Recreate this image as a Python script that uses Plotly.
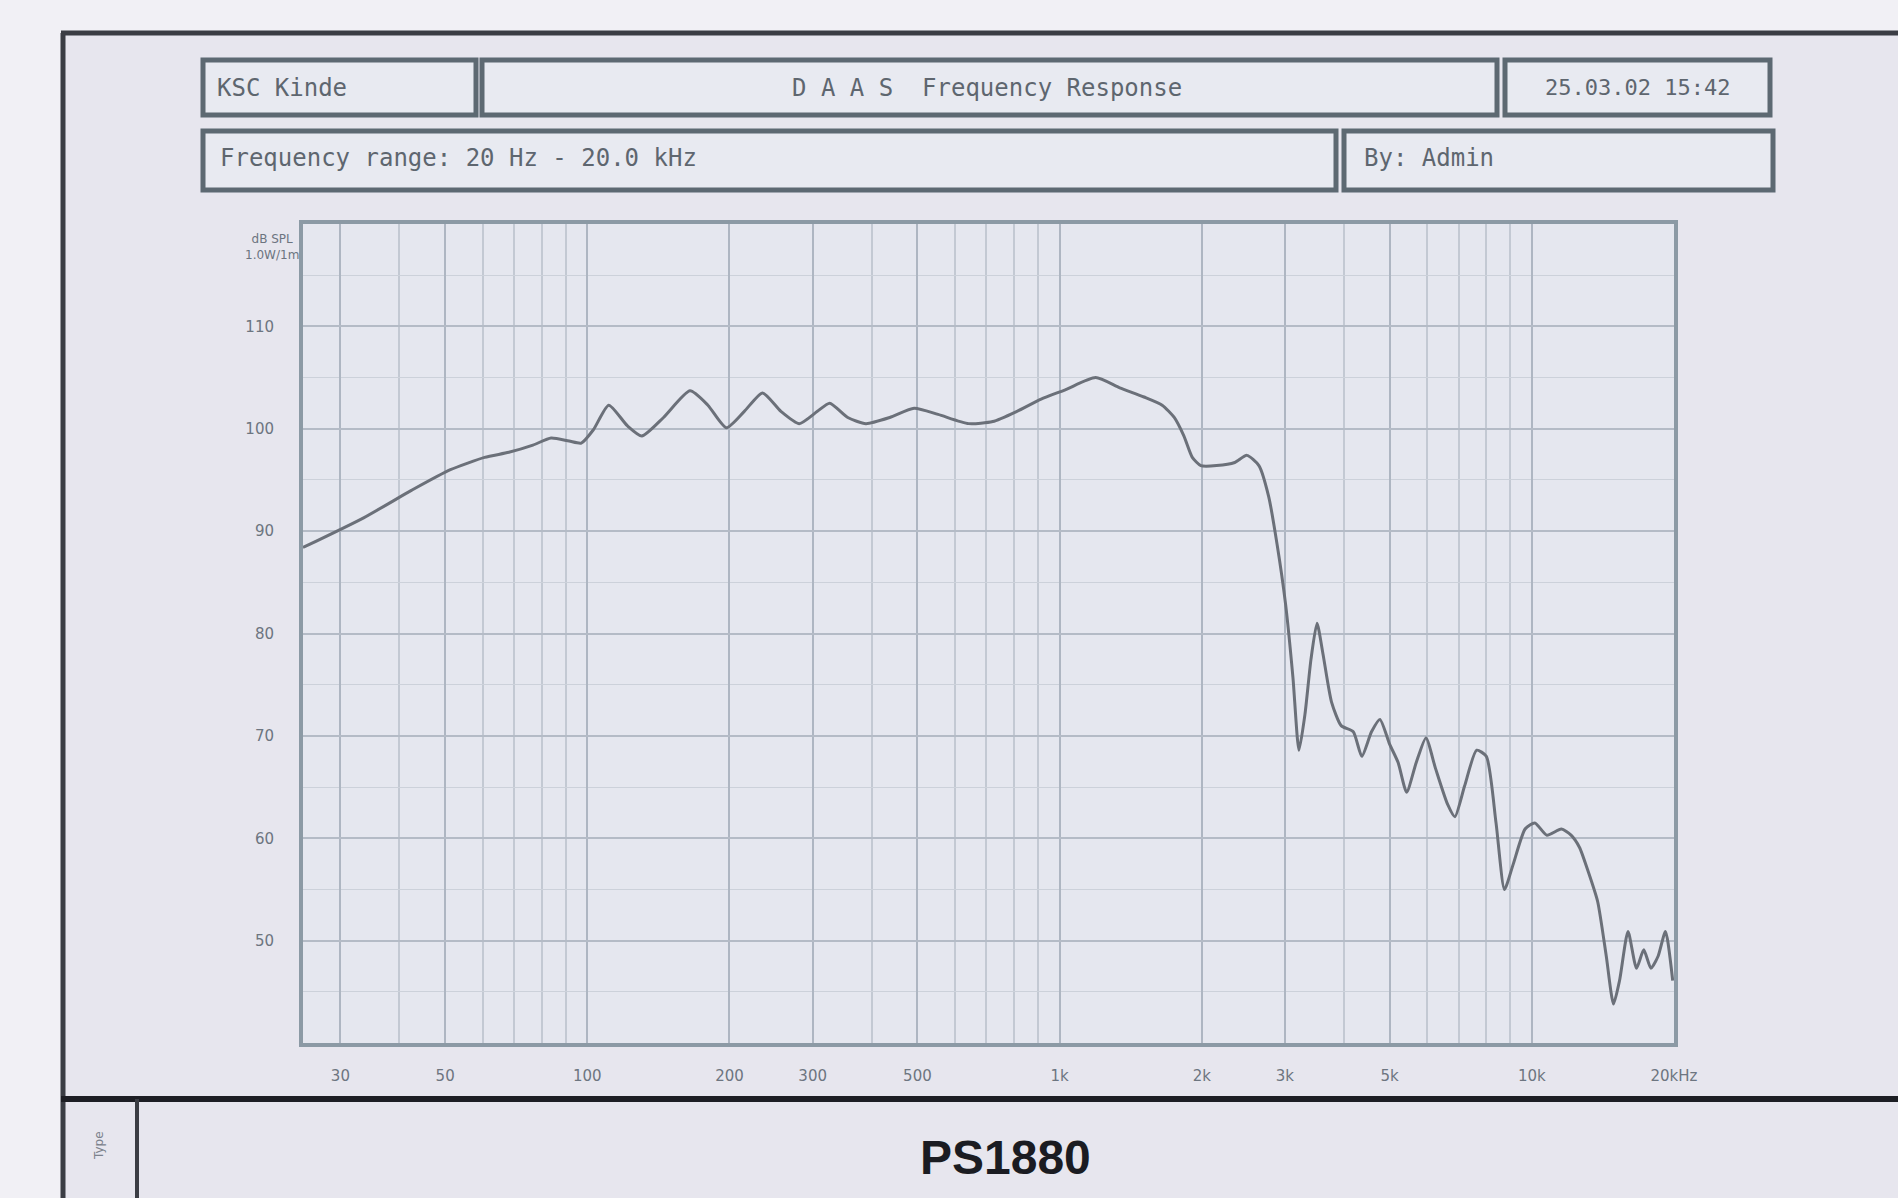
import math
import plotly.graph_objects as go

# ---- measured response of the PS1880 driver (Hz, dB SPL) ----
freq_hz = [25, 33.6, 42.5, 51.3, 60.6, 68.2, 76.7, 83.8, 91.5, 97.1, 103, 111, 121.5, 130.5,
           145, 165, 180, 197, 215, 235, 257, 281, 307, 326, 356, 389, 437, 492, 553, 642,
           722, 812, 914, 1028, 1192, 1341, 1509, 1649, 1749, 1833, 1910, 1991, 2150, 2349,
           2492, 2643, 2771, 2888, 3011, 3120, 3213, 3308, 3407, 3508, 3612, 3766, 3947,
           4187, 4365, 4576, 4768, 4998, 5210, 5431, 5692, 5967, 6254, 6633, 6872, 7204,
           7641, 8010, 8398, 8752, 9123, 9678, 10146, 10763, 11548, 12107, 12618, 13151,
           13786, 14374, 14890, 15337, 15984, 16658, 17258, 17873, 18515, 19185, 19873]
spl_db = [88.4, 91.3, 94.0, 96.0, 97.2, 97.7, 98.4, 99.1, 98.8, 98.6, 99.9, 102.3, 100.3, 99.3,
          101.1, 103.7, 102.3, 100.1, 101.7, 103.5, 101.7, 100.5, 101.7, 102.5, 101.1, 100.5,
          101.1, 102.0, 101.4, 100.5, 100.7, 101.7, 102.9, 103.8, 105.0, 104.0, 103.1, 102.3,
          101.1, 99.3, 97.2, 96.4, 96.4, 96.7, 97.4, 96.4, 93.4, 88.7, 82.8, 75.7, 68.6, 72.1,
          77.5, 81.0, 78.0, 73.3, 71.0, 70.4, 68.0, 70.4, 71.6, 69.2, 67.4, 64.5, 67.4, 69.8,
          66.8, 63.3, 62.1, 65.1, 68.6, 68.0, 61.5, 55.0, 57.4, 60.9, 61.5, 60.3, 60.9, 60.3,
          59.1, 56.8, 53.8, 48.5, 43.8, 46.1, 50.9, 47.3, 49.1, 47.3, 48.5, 50.9, 46.1]

# ---- axes ----
x_tick_vals = [30, 50, 100, 200, 300, 500, 1000, 2000, 3000, 5000, 10000, 20000]
x_tick_text = ["30", "50", "100", "200", "300", "500", "1k", "2k", "3k", "5k", "10k", "20kHz"]
x_minor_vals = [m * d for d in (10, 100, 1000, 10000) for m in range(1, 10)
                if 25 <= m * d <= 20000]
y_tick_vals = [50, 60, 70, 80, 90, 100, 110]
y_tick_text = ["50", "60", "70", "80", "90", "100", "110"]
x_min_hz, x_max_hz = 25, 20000
y_min_db, y_max_db = 40, 120

# ---- header text ----
title_left = "KSC Kinde"
title_mid = "D A A S  Frequency Response"
title_right = "25.03.02 15:42"
range_text = "Frequency range: 20 Hz - 20.0 kHz"
by_text = "By: Admin"
unit_text = "dB SPL<br>1.0W/1m"
model_name = "PS1880"
side_text = "Type"

# ---- page geometry (pixels) ----
FIG_W, FIG_H = 1898, 1198
M_L, M_R, M_T, M_B = 303, 224, 224, 155
PW = FIG_W - M_L - M_R
PH = FIG_H - M_T - M_B


def px(x):
    return (x - M_L) / PW


def py(y):
    return (FIG_H - M_B - y) / PH


INK = "#3b3d44"
BOX_LINE = "#5d6972"
BOX_FILL = "#e8eaf1"
TEXT_GREY = "#5e666f"
MONO = "DejaVu Sans Mono"

fig = go.Figure()
fig.add_trace(go.Scatter(
    x=freq_hz, y=spl_db, mode="lines",
    line=dict(color="#6b7079", width=3, shape="spline", smoothing=0.6),
    hoverinfo="x+y", showlegend=False,
))

shapes = []
# outer page frame
shapes.append(dict(type="rect", xref="paper", yref="paper",
                   x0=px(0), x1=px(63), y0=py(FIG_H), y1=py(0),
                   fillcolor="#f1f0f5", line_width=0, layer="below"))
shapes.append(dict(type="rect", xref="paper", yref="paper",
                   x0=px(0), x1=px(FIG_W), y0=py(33), y1=py(0),
                   fillcolor="#f1f0f5", line_width=0, layer="below"))
shapes.append(dict(type="line", xref="paper", yref="paper",
                   x0=px(63), x1=px(63), y0=py(33), y1=py(FIG_H),
                   line=dict(color=INK, width=5)))
shapes.append(dict(type="line", xref="paper", yref="paper",
                   x0=px(61), x1=px(FIG_W), y0=py(33), y1=py(33),
                   line=dict(color=INK, width=5)))
shapes.append(dict(type="line", xref="paper", yref="paper",
                   x0=px(61), x1=px(FIG_W), y0=py(1099), y1=py(1099),
                   line=dict(color="#1d1e24", width=6)))
shapes.append(dict(type="line", xref="paper", yref="paper",
                   x0=px(137), x1=px(137), y0=py(1099), y1=py(FIG_H),
                   line=dict(color=INK, width=4)))

# header boxes: (x0, x1, y0, y1)
header_boxes = [(203, 476, 60, 115), (482, 1497, 60, 115), (1505, 1770, 60, 115),
                (203, 1336, 131, 190), (1344, 1773, 131, 190)]
for x0, x1, y0, y1 in header_boxes:
    shapes.append(dict(type="rect", xref="paper", yref="paper",
                       x0=px(x0), x1=px(x1), y0=py(y1), y1=py(y0),
                       fillcolor=BOX_FILL, line=dict(color=BOX_LINE, width=5)))

annotations = []


def label(text, x, y, size, xanchor="left", color=TEXT_GREY, family=MONO, **kw):
    annotations.append(dict(text=text, x=px(x), y=py(y), xref="paper", yref="paper",
                            xanchor=xanchor, yanchor="middle", showarrow=False,
                            font=dict(family=family, size=size, color=color), **kw))


label(title_left, 215, 88, 24)
label(title_mid, 987, 88, 24, xanchor="center")
label(title_right, 1637, 88, 22, xanchor="center")
label(range_text, 218, 158, 24)
label(by_text, 1362, 158, 24)
label(unit_text, 272, 247, 12, xanchor="center", color="#6c7480", family="DejaVu Sans")
label(model_name, 1005, 1157, 48, xanchor="center", color="#1b1c22",
      family="Liberation Sans, Arial")
annotations[-1]["font"]["weight"] = "bold"
label(side_text, 99, 1146, 12, xanchor="center", color="#7c828c",
      family="DejaVu Sans", textangle=-90)

fig.update_layout(
    width=FIG_W, height=FIG_H,
    margin=dict(l=M_L, r=M_R, t=M_T, b=M_B, pad=0),
    paper_bgcolor="#e7e6ee",
    plot_bgcolor="#e5e7ef",
    shapes=shapes,
    annotations=annotations,
    showlegend=False,
    xaxis=dict(
        type="log",
        range=[math.log10(x_min_hz), math.log10(x_max_hz)],
        tickmode="array", tickvals=x_tick_vals, ticktext=x_tick_text,
        ticks="", ticklabelstandoff=16,
        tickfont=dict(family="DejaVu Sans", size=15, color="#6d7580"),
        showgrid=True, gridcolor="#aeb6c2", gridwidth=2,
        minor=dict(tickmode="array", tickvals=x_minor_vals, showgrid=True,
                   gridcolor="#c3c9d3", gridwidth=1.5, ticks=""),
        showline=True, linecolor="#8c9aa5", linewidth=4, mirror=True,
        zeroline=False,
    ),
    yaxis=dict(
        range=[y_min_db, y_max_db],
        tickmode="array", tickvals=y_tick_vals, ticktext=y_tick_text,
        ticks="", ticklabelstandoff=22,
        tickfont=dict(family="DejaVu Sans", size=15, color="#6d7580"),
        showgrid=True, gridcolor="#b4bbc6", gridwidth=1.5,
        minor=dict(dtick=5, showgrid=True, gridcolor="#ccd1da", gridwidth=1, ticks=""),
        showline=True, linecolor="#8c9aa5", linewidth=4, mirror=True,
        zeroline=False,
    ),
)

fig.write_html("out.html")
